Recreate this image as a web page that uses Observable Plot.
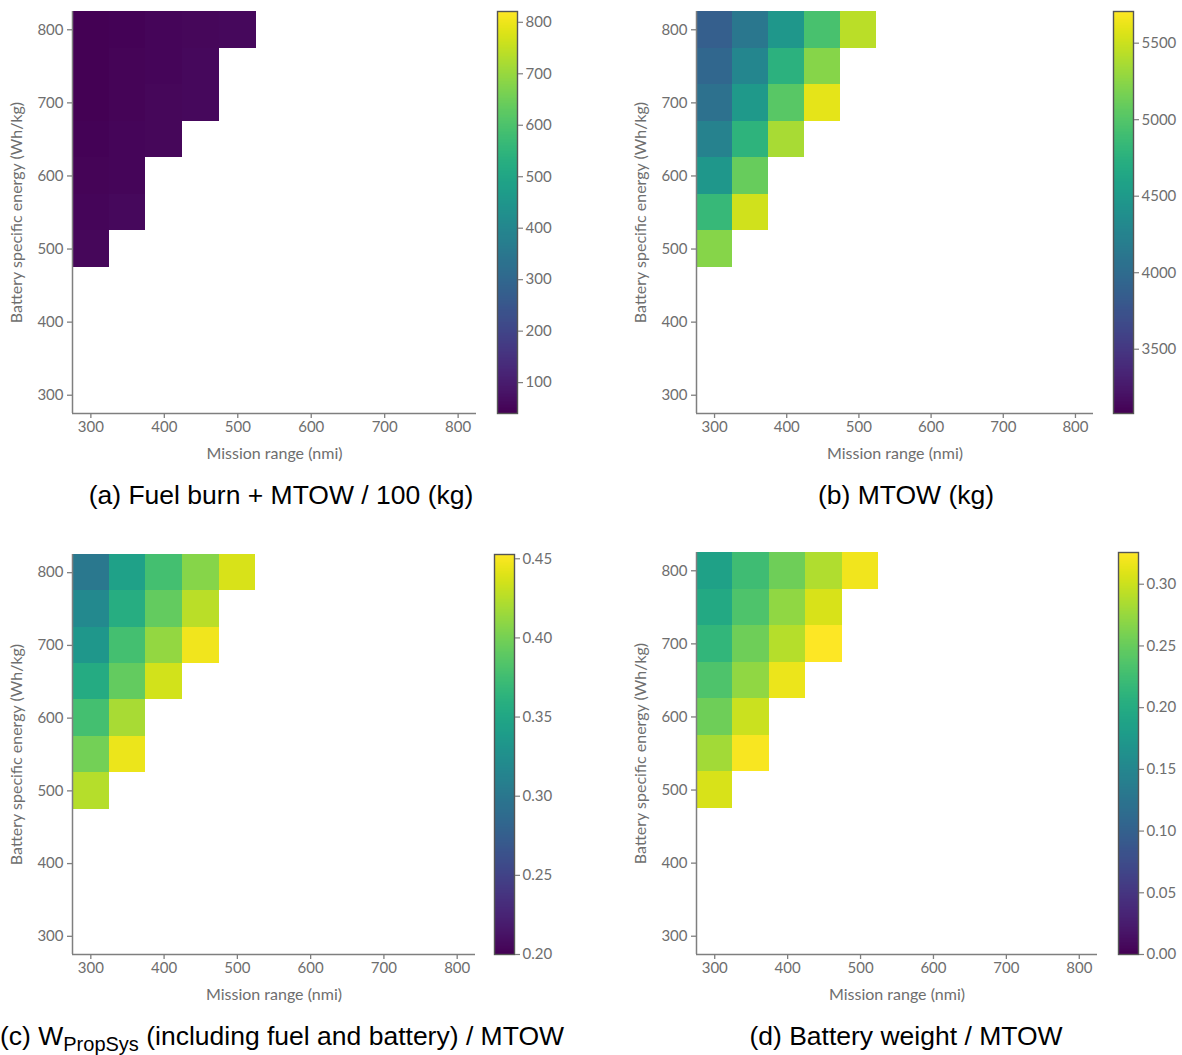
<!DOCTYPE html>
<html>
<head>
<meta charset="utf-8">
<script src="https://cdn.jsdelivr.net/npm/d3@7"></script>
<script src="https://cdn.jsdelivr.net/npm/@observablehq/plot@0.6"></script>
<style>
  html, body { margin: 0; padding: 0; background: #fff; }
  #page { position: relative; width: 1182px; height: 1055px; overflow: hidden; background: #fff; }
  .pane { position: absolute; }
  .caption {
    position: absolute; transform: translateX(-50%); white-space: nowrap;
    font-family: "Liberation Sans", Arial, sans-serif; font-size: 26.5px; line-height: 30px; color: #000;
  }
  .caption .sub { font-size: 20px; vertical-align: -6px; }
</style>
</head>
<body>
<div id="page"></div>
<script>
// Grid of feasible designs: mission range (nmi) x battery specific energy (Wh/kg)
const cellRange  = [300, 350, 400, 450, 500,
                    300, 350, 400, 450,
                    300, 350, 400, 450,
                    300, 350, 400,
                    300, 350,
                    300, 350,
                    300];
const cellEnergy = [800, 800, 800, 800, 800,
                    750, 750, 750, 750,
                    700, 700, 700, 700,
                    650, 650, 650,
                    600, 600,
                    550, 550,
                    500];

// (a) Fuel burn + MTOW / 100 (kg)
const fuelPlusMtow = [42, 44, 50, 53, 58,
                      43, 47, 51, 56,
                      43, 48, 53, 58,
                      46, 50, 55,
                      48, 52,
                      50, 57,
                      54];
// (b) MTOW (kg)
const mtow = [3863, 4126, 4468, 4941, 5440,
              3942, 4284, 4757, 5230,
              4047, 4494, 5020, 5600,
              4231, 4783, 5361,
              4468, 5098,
              4836, 5519,
              5230];
// (c) propulsion system weight fraction (including fuel and battery)
const propSysFraction = [0.301, 0.344, 0.377, 0.407, 0.437,
                         0.319, 0.357, 0.392, 0.427,
                         0.334, 0.377, 0.412, 0.447,
                         0.354, 0.392, 0.435,
                         0.377, 0.420,
                         0.399, 0.445,
                         0.425];
// (d) battery weight fraction
const batteryFraction = [0.186, 0.225, 0.254, 0.287, 0.319,
                         0.196, 0.235, 0.271, 0.306,
                         0.215, 0.254, 0.290, 0.326,
                         0.235, 0.271, 0.316,
                         0.254, 0.300,
                         0.280, 0.323,
                         0.306];

// Axis ticks and colour-bar ranges
const rangeTicks  = [300, 400, 500, 600, 700, 800];
const energyTicks = [300, 400, 500, 600, 700, 800];
const axisExtent  = [275, 825];
const domainA = [40, 821],     ticksA = [100, 200, 300, 400, 500, 600, 700, 800];
const domainB = [3080, 5707],  ticksB = [3500, 4000, 4500, 5000, 5500];
const domainC = [0.20, 0.4527], ticksC = [0.20, 0.25, 0.30, 0.35, 0.40, 0.45];
const domainD = [0.0, 0.3257], ticksD = [0.00, 0.05, 0.10, 0.15, 0.20, 0.25, 0.30];

const half = 25; // half cell width in both directions
const axisGray = "#7f7f7f";
const textGray = "#6e6e6e";
const baseStyle = {fontFamily: "Lato, sans-serif", fontSize: "15px", fontWeight: 400, color: textGray, background: "transparent", overflow: "visible"};

const page = document.getElementById("page");
function place(node, left, top) {
  const d = document.createElement("div");
  d.className = "pane";
  d.style.left = left + "px";
  d.style.top = top + "px";
  d.appendChild(node);
  page.appendChild(d);
}

function heatmap(values, domain, m) {
  const data = cellRange.map((x, i) => ({x, y: cellEnergy[i], v: values[i]}));
  return Plot.plot({
    width: 480, height: 470,
    marginLeft: m.left, marginRight: m.right, marginTop: m.top, marginBottom: m.bottom,
    style: baseStyle,
    x: {type: "linear", domain: axisExtent},
    y: {type: "linear", domain: axisExtent},
    color: {type: "linear", scheme: "viridis", domain},
    marks: [
      Plot.rect(data, {
        x1: d => d.x - half, x2: d => d.x + half,
        y1: d => d.y - half, y2: d => d.y + half,
        fill: "v", shapeRendering: "crispEdges"
      }),
      // left and bottom spines
      Plot.ruleX([axisExtent[0]], {stroke: axisGray, strokeWidth: 1.5}),
      Plot.ruleY([axisExtent[0]], {stroke: axisGray, strokeWidth: 1.5}),
      // tick marks and tick labels
      Plot.axisX({ticks: rangeTicks, tickSize: 5, tickPadding: 3,
        stroke: axisGray, strokeWidth: 1.3, fontSize: 15, label: null}),
      Plot.axisY({ticks: energyTicks, tickSize: 5, tickPadding: 4,
        stroke: axisGray, strokeWidth: 1.3, fontSize: 15, label: null}),
      // axis titles, set a little larger than the tick labels
      Plot.axisX({ticks: [], tickSize: 0, fontSize: 16,
        label: "Mission range (nmi)", labelAnchor: "center", labelArrow: "none", labelOffset: 45}),
      Plot.axisY({ticks: [], tickSize: 0, fontSize: 16,
        label: "Battery specific energy (Wh/kg)", labelAnchor: "center", labelArrow: "none", labelOffset: 62})
    ]
  });
}

function colorbar(domain, ticks, fmt, m, width) {
  return Plot.plot({
    width, height: 420,
    marginLeft: 0, marginRight: width - 20, marginTop: m.top, marginBottom: m.bottom,
    style: baseStyle,
    x: {domain: [0, 1], axis: null},
    y: {type: "linear", domain},
    color: {type: "linear", scheme: "viridis", domain},
    marks: [
      Plot.raster({fill: (x, y) => y, x1: 0, x2: 1, y1: domain[0], y2: domain[1], width: 1, height: 400}),
      Plot.frame({stroke: "#555", strokeWidth: 1.4}),
      Plot.axisY({anchor: "right", ticks, tickFormat: fmt, tickSize: 5, tickPadding: 3,
        stroke: axisGray, strokeWidth: 1.2, label: null})
    ]
  });
}

const intFmt = d3.format("d");
const decFmt = d3.format(".2f");

// Top row
place(heatmap(fuelPlusMtow, domainA, {left: 72, right: 4, top: 11, bottom: 57}), 0, 0);
place(colorbar(domainA, ticksA, intFmt, {top: 11, bottom: 7}, 80), 497, 0);
place(heatmap(mtow, domainB, {left: 76, right: 7, top: 11, bottom: 57}), 620, 0);
place(colorbar(domainB, ticksB, intFmt, {top: 11, bottom: 7}, 69), 1113, 0);

// Bottom row
place(heatmap(propSysFraction, domainC, {left: 72, right: 5, top: 14, bottom: 56}), 0, 540);
place(colorbar(domainC, ticksC, decFmt, {top: 14, bottom: 6}, 80), 494, 540);
place(heatmap(batteryFraction, domainD, {left: 76, right: 3, top: 12, bottom: 56}), 620, 540);
place(colorbar(domainD, ticksD, decFmt, {top: 12, bottom: 6}, 64), 1118, 540);

// Sub-figure captions
function caption(html, cx, top) {
  const d = document.createElement("div");
  d.className = "caption";
  d.style.left = cx + "px";
  d.style.top = top + "px";
  d.innerHTML = html;
  page.appendChild(d);
}
caption("(a) Fuel burn + MTOW / 100 (kg)", 281, 480);
caption("(b) MTOW (kg)", 906, 480);
caption("(c) W<span class=\"sub\">PropSys</span> (including fuel and battery) / MTOW", 282, 1021);
caption("(d) Battery weight / MTOW", 906, 1021);
</script>
</body>
</html>
